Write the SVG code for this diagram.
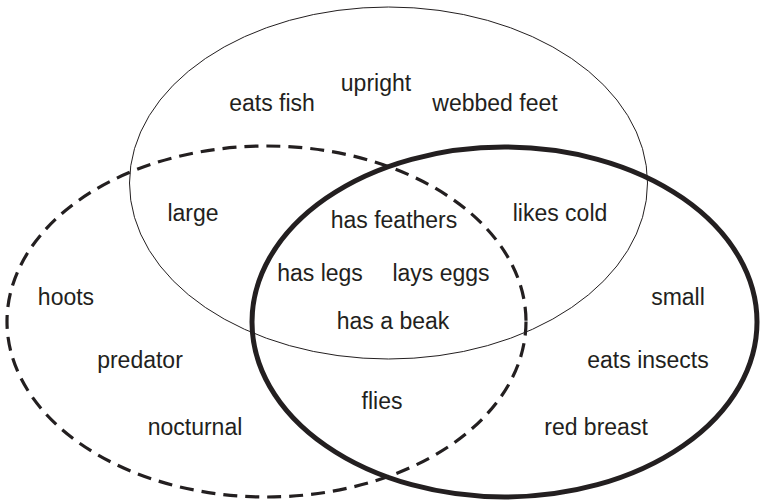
<svg xmlns="http://www.w3.org/2000/svg" width="762" height="503" viewBox="0 0 762 503">
<style>
.t{font-family:"Liberation Sans",Arial,sans-serif;font-size:23px;fill:#231f20;text-anchor:middle}
.set{fill:none;stroke:#231f20}
</style>
<rect width="762" height="503" fill="#ffffff"/>
<g id="sets">
<g id="set-top"><ellipse class="set" cx="388.5" cy="183" rx="259" ry="176" stroke-width="1"/></g>
<g id="set-dashed"><ellipse class="set" cx="266.5" cy="321.5" rx="259.5" ry="175.5" stroke-width="3.2" stroke-dasharray="14 8"/></g>
<g id="set-thick"><ellipse class="set" cx="504.5" cy="322" rx="252.5" ry="175" stroke-width="5"/></g>
</g>
<g id="labels">
<text class="t" x="376" y="91">upright</text>
<text class="t" x="272" y="111">eats fish</text>
<text class="t" x="495" y="111">webbed feet</text>
<text class="t" x="193" y="221">large</text>
<text class="t" x="394" y="228">has feathers</text>
<text class="t" x="560" y="221">likes cold</text>
<text class="t" x="320" y="281">has legs</text>
<text class="t" x="441" y="281">lays eggs</text>
<text class="t" x="66" y="305">hoots</text>
<text class="t" x="678" y="305">small</text>
<text class="t" x="393" y="329">has a beak</text>
<text class="t" x="140" y="368">predator</text>
<text class="t" x="648" y="368">eats insects</text>
<text class="t" x="382" y="409">flies</text>
<text class="t" x="195" y="435">nocturnal</text>
<text class="t" x="596" y="435">red breast</text>
</g>
</svg>
